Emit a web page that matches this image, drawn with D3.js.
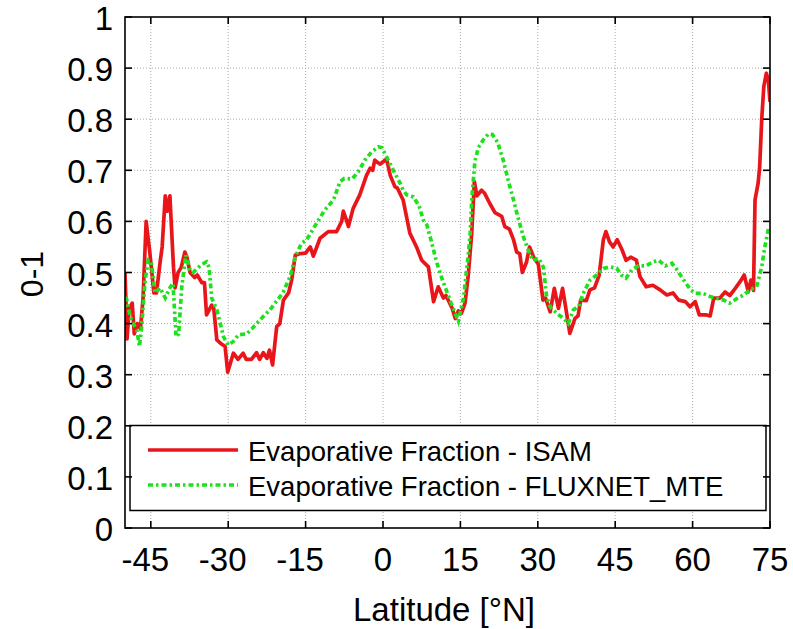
<!DOCTYPE html>
<html>
<head>
<meta charset="utf-8">
<script src="https://cdn.jsdelivr.net/npm/d3@7"></script>
<style>
  html, body { margin: 0; padding: 0; background: #fff; }
  svg { display: block; font-family: "Liberation Sans", Arial, Helvetica, sans-serif; }
</style>
</head>
<body>
<svg id="chart" width="793" height="629"></svg>
<script>
// ---- data ----
const seriesNames = ["Evaporative Fraction - ISAM", "Evaporative Fraction - FLUXNET_MTE"];
const xTicks = [-45, -30, -15, 0, 15, 30, 45, 60, 75];
const yTicks = [0, 0.1, 0.2, 0.3, 0.4, 0.5, 0.6, 0.7, 0.8, 0.9, 1];
const xLabel = "Latitude [°N]";
const yLabel = "0-1";

const isamLat = [-50,-49.6,-49.2,-48.6,-48.2,-47.6,-47.0,-46.5,-45.9,-45.2,-44.4,-43.9,-43.2,-42.8,-42.2,-41.8,-41.3,-40.6,-40.3,-39.7,-39.1,-38.4,-38.0,-37.4,-36.5,-36.0,-35.1,-34.6,-34.2,-33.2,-32.8,-32.2,-31.3,-30.6,-30.1,-29.0,-28.1,-27.1,-26.5,-25.5,-24.5,-23.9,-23.2,-22.5,-22.0,-21.4,-20.6,-20.0,-19.3,-18.3,-17.7,-17.0,-16.0,-15.0,-14.1,-13.5,-12.2,-10.6,-9.0,-8.0,-7.7,-7.0,-6.7,-5.8,-4.5,-3.2,-2.5,-2.0,-1.6,-0.6,0.7,1.4,2.3,2.8,3.9,5.2,6.5,7.5,8.8,9.8,10.7,11.7,12.2,13.4,14.0,14.6,15.2,15.9,16.5,17.2,17.7,18.2,19.1,19.7,20.7,21.7,23.0,23.6,24.5,25.3,25.9,26.5,27.0,27.8,28.4,29.2,30.1,31.0,31.5,32.4,33.2,34.0,34.8,35.4,36.2,37.2,37.8,38.3,39.4,40.1,41.0,41.9,42.7,43.2,43.9,44.6,45.4,46.3,47.1,48.0,49.1,49.8,51.0,52.3,53.7,55.0,56.2,57.3,58.6,59.5,60.5,61.3,62.7,63.4,64.1,65.3,66.3,67.2,68.2,69.2,70.0,70.8,71.3,71.8,72.1,72.7,73.0,73.4,73.8,74.3,74.7,75.0];
const isamVal = [0.50,0.37,0.43,0.44,0.38,0.40,0.39,0.45,0.60,0.54,0.46,0.46,0.52,0.55,0.65,0.62,0.65,0.51,0.47,0.50,0.51,0.54,0.53,0.50,0.49,0.495,0.48,0.48,0.417,0.436,0.43,0.368,0.36,0.355,0.305,0.342,0.33,0.342,0.33,0.33,0.343,0.33,0.343,0.332,0.348,0.319,0.394,0.40,0.446,0.46,0.485,0.534,0.537,0.538,0.55,0.532,0.567,0.58,0.58,0.60,0.62,0.60,0.59,0.625,0.652,0.69,0.704,0.70,0.72,0.712,0.722,0.69,0.668,0.665,0.642,0.577,0.55,0.524,0.511,0.443,0.472,0.45,0.455,0.43,0.41,0.425,0.42,0.44,0.492,0.577,0.678,0.65,0.661,0.655,0.635,0.617,0.61,0.59,0.585,0.564,0.54,0.537,0.50,0.52,0.55,0.53,0.516,0.446,0.45,0.423,0.469,0.43,0.469,0.432,0.381,0.41,0.415,0.446,0.445,0.466,0.47,0.495,0.564,0.58,0.56,0.55,0.564,0.545,0.524,0.53,0.524,0.492,0.472,0.475,0.466,0.456,0.46,0.446,0.443,0.433,0.443,0.417,0.417,0.415,0.45,0.45,0.462,0.455,0.468,0.482,0.495,0.462,0.485,0.465,0.642,0.675,0.707,0.80,0.864,0.89,0.874,0.834];

const fluxLat = [-49.8,-49.0,-48.4,-47.7,-47.2,-46.8,-46.1,-45.5,-44.9,-44.2,-43.2,-42.2,-41.3,-40.7,-40.1,-39.6,-39.0,-38.2,-37.4,-36.8,-36.0,-35.2,-34.2,-33.7,-33.2,-32.2,-30.9,-30.0,-29.0,-28.0,-26.4,-25.4,-24.5,-23.2,-21.9,-20.7,-19.4,-18.0,-17.0,-15.8,-14.8,-12.9,-11.3,-9.6,-8.3,-7.5,-6.0,-4.8,-3.5,-2.2,-0.9,-0.2,1.0,2.0,3.3,3.9,4.6,5.9,7.0,7.8,8.5,9.4,10.4,11.6,12.5,13.2,14.0,14.6,15.6,16.5,16.9,17.2,17.8,18.5,19.4,20.4,21.2,22.2,23.3,24.4,25.3,26.1,27.2,28.3,29.1,30.1,30.6,31.1,31.7,32.4,33.7,35.0,35.9,36.9,37.9,38.8,40.1,41.4,42.7,44.0,45.3,46.2,47.1,48.2,49.5,51.0,52.4,53.4,54.7,56.0,57.0,58.3,59.6,60.6,62.1,63.4,64.7,66.0,67.2,68.6,69.9,71.1,72.4,73.4,74.0,74.7,75.0];
const fluxVal = [0.453,0.414,0.40,0.387,0.355,0.39,0.485,0.524,0.52,0.46,0.47,0.45,0.47,0.479,0.374,0.38,0.472,0.534,0.505,0.50,0.508,0.515,0.521,0.51,0.45,0.427,0.374,0.358,0.365,0.378,0.38,0.39,0.40,0.414,0.427,0.443,0.46,0.492,0.531,0.557,0.564,0.596,0.622,0.642,0.678,0.684,0.683,0.697,0.72,0.736,0.746,0.744,0.72,0.70,0.675,0.661,0.652,0.648,0.63,0.603,0.593,0.56,0.52,0.483,0.459,0.44,0.42,0.405,0.45,0.531,0.577,0.642,0.717,0.745,0.759,0.771,0.77,0.755,0.72,0.675,0.642,0.61,0.57,0.54,0.523,0.528,0.52,0.51,0.453,0.433,0.42,0.41,0.40,0.427,0.433,0.459,0.485,0.495,0.508,0.511,0.508,0.495,0.489,0.505,0.513,0.513,0.521,0.524,0.513,0.518,0.505,0.485,0.466,0.459,0.459,0.453,0.449,0.446,0.44,0.449,0.456,0.466,0.472,0.511,0.55,0.586,0.59];

// ---- layout ----
const svg = d3.select("#chart");
const L = 125, R = 770, T = 17, B = 528;
const x = d3.scaleLinear().domain([-50, 75]).range([L, R]);
const y = d3.scaleLinear().domain([0, 1]).range([B, T]);
const red = "#e8161b", green = "#1fe01f";
const lw = 3.7, greenDash = "5,3,2.5,3";

svg.append("rect").attr("width", 793).attr("height", 629).attr("fill", "#fff");

// grid
const grid = svg.append("g").attr("stroke", "#aaaaaa").attr("stroke-width", 1).attr("stroke-dasharray", "1,2");
grid.selectAll("line.v").data(xTicks.filter(d => d < 75)).join("line")
  .attr("x1", d => x(d)).attr("x2", d => x(d)).attr("y1", T).attr("y2", B);
grid.selectAll("line.h").data(yTicks.filter(d => d > 0 && d < 1)).join("line")
  .attr("x1", L).attr("x2", R).attr("y1", d => y(d)).attr("y2", d => y(d));

// clip
svg.append("clipPath").attr("id", "clip").append("rect")
  .attr("x", L).attr("y", T).attr("width", R - L).attr("height", B - T);

const line = d3.line().x(d => x(d[0])).y(d => y(d[1]));
const isam = isamLat.map((d, i) => [d, isamVal[i]]);
const flux = fluxLat.map((d, i) => [d, fluxVal[i]]);

const plot = svg.append("g").attr("clip-path", "url(#clip)");
plot.append("path").datum(isam).attr("d", line).attr("fill", "none")
  .attr("stroke", red).attr("stroke-width", lw).attr("stroke-linejoin", "round");
plot.append("path").datum(flux).attr("d", line).attr("fill", "none")
  .attr("stroke", green).attr("stroke-width", lw).attr("stroke-dasharray", greenDash);

// legend
const lg = svg.append("g");
lg.append("rect").attr("x", 130).attr("y", 425.5).attr("width", 636).attr("height", 85)
  .attr("fill", "#fff").attr("stroke", "#000").attr("stroke-width", 1.5);
const legRows = [{name: seriesNames[0], color: red, dash: null, ly: 450},
                 {name: seriesNames[1], color: green, dash: greenDash, ly: 485}];
legRows.forEach(r => {
  lg.append("line").attr("x1", 148).attr("x2", 238).attr("y1", r.ly).attr("y2", r.ly)
    .attr("stroke", r.color).attr("stroke-width", lw).attr("stroke-dasharray", r.dash);
  lg.append("text").attr("x", 248).attr("y", r.ly + 10.5).attr("font-size", 27.5)
    .attr("fill", "#000").text(r.name);
});

// axes box + inward ticks
const ax = svg.append("g").attr("stroke", "#000").attr("stroke-width", 1.6);
ax.append("rect").attr("x", L).attr("y", T).attr("width", R - L).attr("height", B - T).attr("fill", "none");
const tl = 7;
xTicks.forEach(d => {
  ax.append("line").attr("x1", x(d)).attr("x2", x(d)).attr("y1", B).attr("y2", B - tl);
  ax.append("line").attr("x1", x(d)).attr("x2", x(d)).attr("y1", T).attr("y2", T + tl);
});
yTicks.forEach(d => {
  ax.append("line").attr("x1", L).attr("x2", L + tl).attr("y1", y(d)).attr("y2", y(d));
  ax.append("line").attr("x1", R).attr("x2", R - tl).attr("y1", y(d)).attr("y2", y(d));
});

// tick labels
const fs = 33;
svg.append("g").selectAll("text").data(yTicks).join("text")
  .attr("x", L - 12).attr("y", d => y(d) + 13).attr("text-anchor", "end")
  .attr("font-size", fs).attr("fill", "#000").text(d => d3.format("")(d));

const xt = svg.append("g").selectAll("text").data(xTicks).join("text")
  .attr("x", d => x(d)).attr("y", 571).attr("text-anchor", "middle")
  .attr("font-size", fs).attr("fill", "#000").text(d => String(d));
// center the digits; let the minus sign hang left
xt.each(function(d) {
  if (d < 0) {
    const full = this.getComputedTextLength();
    const t = d3.select(this);
    const tmp = svg.append("text").attr("font-size", fs).text(String(-d));
    const w = tmp.node().getComputedTextLength();
    tmp.remove();
    t.attr("dx", -(full - w) / 2);
  }
});

svg.append("text").attr("x", 444).attr("y", 621).attr("text-anchor", "middle")
  .attr("font-size", 33).attr("fill", "#000").text(xLabel);
svg.append("text").attr("transform", "translate(43,274) rotate(-90)").attr("text-anchor", "middle")
  .attr("font-size", 32).attr("fill", "#000").text(yLabel);
</script>
</body>
</html>
